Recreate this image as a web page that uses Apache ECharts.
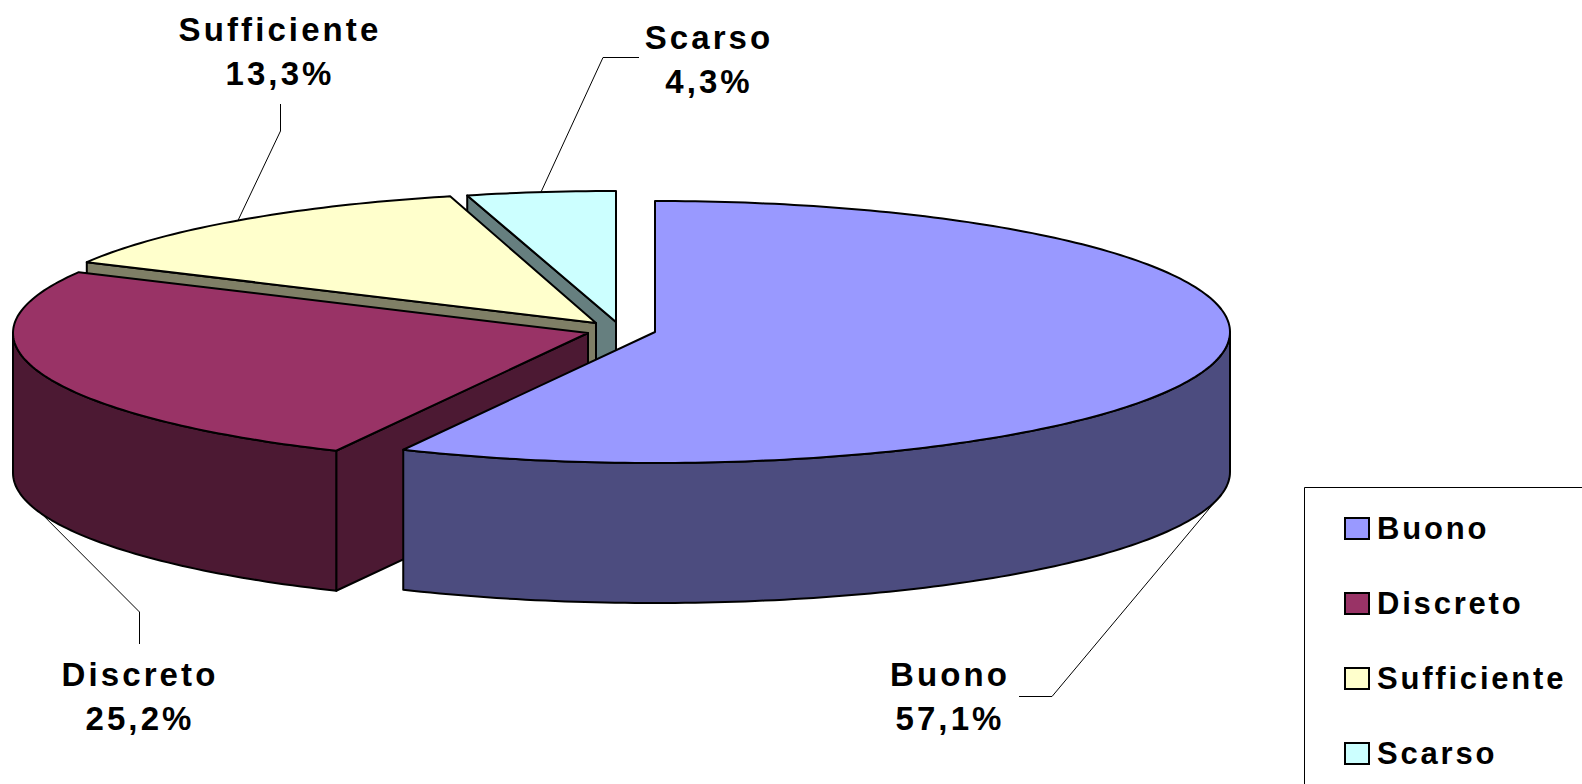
<!DOCTYPE html>
<html>
<head>
<meta charset="utf-8">
<title>Giudizio</title>
<style>
	html, body { margin: 0; padding: 0; background: #fff; overflow: hidden; }
	#myChart { width: 1582px; height: 784px; }
	/* zrender has no letter spacing option, so it goes on the svg text */
	svg text { letter-spacing: 3.1px; }
	svg text[style*="31px"] { letter-spacing: 2.8px; }
</style>
<script src="https://cdn.jsdelivr.net/npm/echarts@6/dist/echarts.min.js"></script>
</head>
<body>
<div id="myChart"></div>
<script>
	const categories = ["Buono", "Discreto", "Sufficiente", "Scarso"];
	const values = [57.1, 25.2, 13.3, 4.3];
	const topColors = ["#9999FF", "#993366", "#FFFFCC", "#CCFFFF"];
	const sideColors = ["#4C4C7F", "#4C1933", "#7F7F66", "#667F7F"];

	// pie layout: every slice is pulled out by its own amount
	const apex = [[655, 332], [588, 333], [596, 323], [616, 322]];
	const labelPos = [[950, 696], [140, 696], [280, 51], [709, 59]];
	const leaderBend = [[[1052, 696.5], [1019, 696.5]], [[139.5, 612], [139.5, 644]], [[280.5, 131], [280.5, 104]], [[603, 57.5], [639, 57.5]]];
	const radiusX = 575;
	const radiusY = 131;
	const depth = 140;
	// the 3d view turns the inner slice edges a little, the vertical edge at 0 stays
	const fromTurn = [0, 0.2, 1.1, 0.5];
	const toTurn = [0.2, 1.1, 0.8, 0];

	const total = values.reduce((a, b) => a + b, 0);
	const toAngle = 360 / total;

	function rimPoint(c, angle, dy) {
		let r = angle * Math.PI / 180;
		return [c[0] + radiusX * Math.sin(r), c[1] - radiusY * Math.cos(r) + dy];
	}

	function arcPoints(c, from, to, dy) {
		let pts = [];
		for (let a = from; a < to; a += 1) {
			pts.push(rimPoint(c, a, dy));
		}
		pts.push(rimPoint(c, to, dy));
		return pts;
	}

	function face(points, fill) {
		return {
			type: "polygon",
			shape: { points: points },
			style: { fill: fill, stroke: "#000", lineWidth: 2, lineJoin: "round" }
		};
	}

	function radialFace(c, angle, fill) {
		let p = rimPoint(c, angle, 0);
		return face([c, p, [p[0], p[1] + depth], [c[0], c[1] + depth]], fill);
	}

	function renderSlice(params, api) {
		let i = categories.indexOf(params.seriesName);
		let c = apex[i];
		let from = api.value(0) * toAngle;
		let to = from + api.value(1) * toAngle;
		from += fromTurn[i];
		to += toTurn[i];
		let mid = (from + to) / 2;
		let children = [];

		// side faces that look towards the viewer
		if (from > 180 && from < 360) {
			children.push(radialFace(c, from, sideColors[i]));
		}
		if (to > 0 && to < 180) {
			children.push(radialFace(c, to, sideColors[i]));
		}
		let rimFrom = Math.max(from, 90);
		let rimTo = Math.min(to, 270);
		if (rimFrom < rimTo) {
			let upper = arcPoints(c, rimFrom, rimTo, 0);
			let lower = arcPoints(c, rimFrom, rimTo, depth).reverse();
			children.push(face(upper.concat(lower), sideColors[i]));
		}

		// top of the slice
		children.push(face([c].concat(arcPoints(c, from, to, 0)), topColors[i]));

		// leader line starts on the visible rim at the middle of the slice
		let visibleFront = mid > 90 && mid < 270;
		let start = rimPoint(c, mid, visibleFront || i === 1 ? depth : 0);
		children.push({
			type: "polyline",
			shape: { points: [start].concat(leaderBend[i]) },
			style: { fill: "none", stroke: "#000", lineWidth: 1 }
		});

		children.push({
			type: "text",
			style: {
				text: categories[i] + "\n" + values[i].toFixed(1).replace(".", ",") + "%",
				x: labelPos[i][0],
				y: labelPos[i][1],
				align: "center",
				verticalAlign: "middle",
				lineHeight: 44,
				fontFamily: "Liberation Sans",
				fontWeight: "bold",
				fontSize: 33,
				fill: "#000"
			}
		});

		return { type: "group", children: children };
	}

	let started = 0;
	const series = categories.map(function(name, i) {
		let row = [started, values[i]];
		started += values[i];
		return {
			name: name,
			type: "custom",
			coordinateSystem: "none",
			renderItem: renderSlice,
			silent: true,
			itemStyle: { color: topColors[i], borderColor: "#000", borderWidth: 2 },
			data: [row]
		};
	}).reverse(); // back slices first

	const chart = echarts.init(document.getElementById("myChart"), null, { renderer: "svg" });
	chart.setOption({
		animation: false,
		backgroundColor: "#fff",
		legend: {
			data: categories,
			orient: "vertical",
			left: 1344,
			top: 513,
			padding: 0,
			icon: "rect",
			itemWidth: 24,
			itemHeight: 21,
			itemGap: 44,
			selectedMode: false,
			textStyle: {
				fontFamily: "Liberation Sans",
				fontWeight: "bold",
				fontSize: 31,
				color: "#000",
				padding: [0, 0, 0, 3]
			}
		},
		graphic: [
			{
				type: "rect",
				shape: { x: 1304.5, y: 487.5, width: 400, height: 400 },
				style: { fill: "none", stroke: "#000", lineWidth: 1 },
				silent: true
			}
		],
		series: series
	});
</script>
</body>
</html>
